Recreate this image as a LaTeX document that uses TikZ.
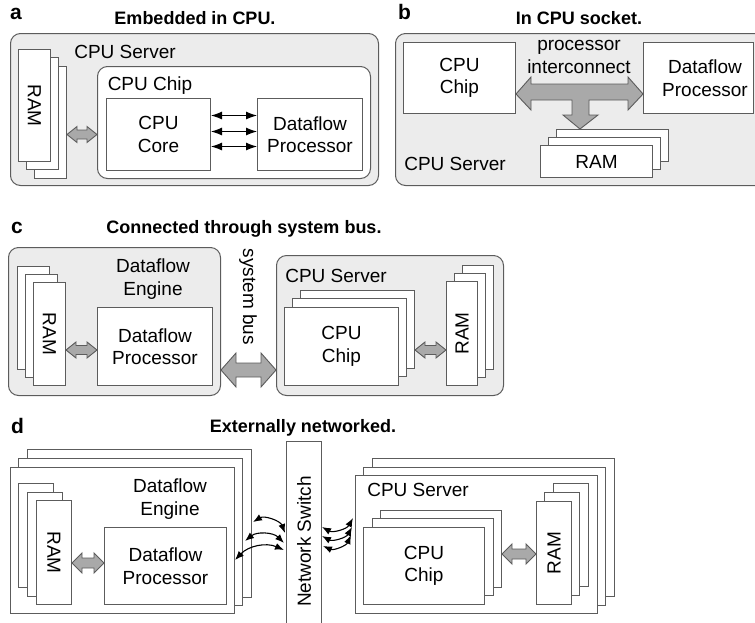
\documentclass[tikz,border=0pt]{standalone}
\usepackage{fontspec}
\setmainfont{Liberation Sans}
\usetikzlibrary{arrows.meta,calc}

\definecolor{linegray}{HTML}{5C5C5C}
\definecolor{panelgray}{HTML}{ECECEC}
\definecolor{arrowgray}{HTML}{A9A9A9}

\newcommand\mainfs{\fontsize{19}{22.5}\selectfont}
\newcommand\titlefs{\fontsize{18}{21}\selectfont}
\newcommand\tagfs{\fontsize{21}{24}\selectfont}

% horizontal gray double arrow: start, end, half shaft, half head, head length
\newcommand\grayarrow[5]{%
  \path[fat] let \p1=(#1), \p2=(#2) in
    (\x1,\y1) -- (\x1+#5pt,\y1+#4pt) -- (\x1+#5pt,\y1+#3pt) -- (\x2-#5pt,\y1+#3pt)
    -- (\x2-#5pt,\y1+#4pt) -- (\x2,\y1) -- (\x2-#5pt,\y1-#4pt) -- (\x2-#5pt,\y1-#3pt)
    -- (\x1+#5pt,\y1-#3pt) -- (\x1+#5pt,\y1-#4pt) -- cycle;}

\tikzset{
  box/.style={draw=linegray, fill=white, line width=1pt, inner sep=0pt,
    anchor=north west, align=center, font=\mainfs},
  sz/.style 2 args={minimum width=#1pt, minimum height=#2pt},
  panel/.style={box, fill=panelgray, rounded corners=10pt},
  roundbox/.style={box, rounded corners=10pt},
  txt/.style={align=center, font=\mainfs, inner sep=0pt},
  title/.style={font=\titlefs\bfseries, inner sep=0pt, anchor=base},
  tag/.style={font=\tagfs\bfseries, inner sep=0pt, anchor=base west},
  link/.style={draw=black, line width=1pt, {Latex[length=11pt,width=8pt]}-{Latex[length=11pt,width=8pt]}},
  netlink/.style={draw=black, line width=1.1pt, {Latex[length=9pt,width=7pt]}-{Latex[length=9pt,width=7pt]}},
  fat/.style={draw=linegray, fill=arrowgray, line width=0.9pt, line join=miter},
}

\begin{document}
\begin{tikzpicture}[x=1pt,y=-1pt]
\useasboundingbox (0,0) rectangle (755,622);
\clip (0,0) rectangle (755,622);

% ---------------- a: embedded in CPU ----------------
\node[tag] (tagA) at (10,19) {a};
\node[title] (titleA) at (195,24) {Embedded in CPU.};
\node[panel, sz={368}{152}] (serverA) at (10,33) {};
\node[txt] (serverAtxt) at (125,52) {CPU Server};
\node[box, sz={32}{112}] (ramA3) at (34,66) {};
\node[box, sz={32}{112}] (ramA2) at (26,57) {};
\node[box, sz={32}{112}] (ramA1) at (18,49) {};
\node[txt, rotate=-90] (ramAtxt) at (ramA1.center) {RAM};
\node[roundbox, sz={273}{112}] (chipA) at (97,66) {};
\node[txt] (chipAtxt) at (150,86) {CPU Chip};
\node[box, sz={104}{72}] (coreA) at (106,98) {CPU\\Core};
\node[box, sz={105}{72}] (dfpA) at (257,98) {Dataflow\\Processor};
\grayarrow{ramA3.east |- coreA.center}{chipA.west |- coreA.center}{4.5}{8}{10}
\draw[link] ([yshift=-12pt]coreA.east) -- ([yshift=-12pt]dfpA.west);
\draw[link] ([yshift=3pt]coreA.east) -- ([yshift=3pt]dfpA.west);
\draw[link] ([yshift=19pt]coreA.east) -- ([yshift=19pt]dfpA.west);

% ---------------- b: in CPU socket ----------------
\node[tag] (tagB) at (398,19) {b};
\node[title] (titleB) at (579,24) {In CPU socket.};
\node[panel, sz={380}{152}] (serverB) at (395,33) {};
\node[box, sz={112}{71}] (chipB) at (403,42) {CPU\\Chip};
\node[box, sz={110}{71}] (dfpB) at (643,42) {};
\node[txt] (dfpBtxt) at (705,78) {Dataflow\\Processor};
\node[txt] (busB) at (579,57) {processor\\interconnect};
\node[box, sz={112}{32}] (ramB3) at (556,129) {};
\node[box, sz={112}{32}] (ramB2) at (548,137) {};
\node[box, sz={112}{32}] (ramB1) at (540,145) {RAM};
\node[txt] (serverBtxt) at (455,164) {CPU Server};
% T-shaped interconnect joining chip, dataflow processor and memory
\coordinate (tL) at (chipB.east |- 0,94);
\coordinate (tR) at (dfpB.west |- 0,94);
\coordinate (tD) at (580,129);
\path[fat] (tL) -- ++(15,-17) -- ++(0,7) -- ($(tR)+(-15,-10)$) -- ++(0,-7) -- (tR)
  -- ++(-15,16) -- ++(0,-10) -- ($(tD)+(9,-29)$) -- ++(0,15) -- ++(9,0) -- (tD)
  -- ++(-17,-14) -- ++(9,0) -- ++(0,-15) -- ($(tL)+(15,6)$) -- ++(0,10) -- cycle;

% ---------------- c: connected through system bus ----------------
\node[tag] (tagC) at (11,233) {c};
\node[title] (titleC) at (244,233) {Connected through system bus.};
\node[panel, sz={212}{148}] (engineC) at (8,247) {};
\node[box, sz={32}{103}] (ramC3) at (17,266) {};
\node[box, sz={32}{103}] (ramC2) at (25,274) {};
\node[box, sz={32}{103}] (ramC1) at (33,282) {};
\node[txt, rotate=-90] (ramCtxt) at (ramC1.center) {RAM};
\node[txt] (engineCtxt) at (153,279) {Dataflow\\Engine};
\node[box, sz={115}{78}] (dfpC) at (97,307) {Dataflow\\Processor};
\grayarrow{ramC1.east |- 0,350}{dfpC.west |- 0,350}{4.5}{8}{10}
\node[txt, rotate=-90] (busC) at (248,297) {system bus};
\node[panel, sz={227}{140}] (serverC) at (276,255) {};
\node[txt] (serverCtxt) at (336,276) {CPU Server};
\node[box, sz={114}{78}] (chipC3) at (300,290) {};
\node[box, sz={114}{78}] (chipC2) at (292,298) {};
\node[box, sz={114}{78}] (chipC1) at (284,307) {CPU\\Chip};
\node[box, sz={31}{104}] (ramR3) at (462,265) {};
\node[box, sz={31}{104}] (ramR2) at (454,273) {};
\node[box, sz={31}{104}] (ramR1) at (446,281) {};
\node[txt, rotate=90] (ramRtxt) at (ramR1.center) {RAM};
\grayarrow{chipC3.east |- 0,350}{ramR1.west |- 0,350}{4.5}{8}{10}
\grayarrow{engineC.east |- 0,370}{serverC.west |- 0,370}{7}{17}{15}

% ---------------- d: externally networked ----------------
\node[tag] (tagD) at (11,433) {d};
\node[title] (titleD) at (303,432) {Externally networked.};
\node[box, sz={224}{148}] (engineD3) at (27,449) {};
\node[box, sz={224}{147}] (engineD2) at (18,458) {};
\node[box, sz={224}{146}] (engineD1) at (10,467) {};
\node[box, sz={35}{104}] (ramD3) at (18,483) {};
\node[box, sz={35}{104}] (ramD2) at (27,492) {};
\node[box, sz={35}{104}] (ramD1) at (36,500) {};
\node[txt, rotate=-90] (ramDtxt) at (ramD1.center) {RAM};
\node[txt] (engineDtxt) at (170,499) {Dataflow\\Engine};
\node[box, sz={122}{77}] (dfpD) at (104,527) {Dataflow\\Processor};
\grayarrow{ramD1.east |- 0,563}{dfpD.west |- 0,563}{5}{10}{10}

\node[box, sz={35}{200}] (switchD) at (286,441) {};
\node[txt, rotate=90] (switchDtxt) at (switchD.center) {Network Switch};

\node[box, sz={242}{138}] (serverD3) at (372,458) {};
\node[box, sz={242}{138}] (serverD2) at (363,467) {};
\node[box, sz={242}{138}] (serverD1) at (355,475) {};
\node[txt] (serverDtxt) at (418,490) {CPU Server};
\node[box, sz={121}{77}] (chipD3) at (380,510) {};
\node[box, sz={121}{77}] (chipD2) at (372,518) {};
\node[box, sz={121}{77}] (chipD1) at (363,527) {CPU\\Chip};
\node[box, sz={35}{103}] (ramE3) at (553,483) {};
\node[box, sz={35}{103}] (ramE2) at (544,492) {};
\node[box, sz={35}{103}] (ramE1) at (536,501) {};
\node[txt, rotate=90] (ramEtxt) at (ramE1.center) {RAM};
\grayarrow{chipD3.east |- 0,554}{ramE1.west |- 0,554}{5}{10}{10}

% network links, engine side
\coordinate (la1) at (253,522); \coordinate (lb1) at (285,533);
\coordinate (la2) at (245,541); \coordinate (lb2) at (284,543);
\coordinate (la3) at (235,560); \coordinate (lb3) at (284,550);
\draw[netlink] (la1) to[bend left=50] (lb1);
\draw[netlink] (la2) to[bend left=42] (lb2);
\draw[netlink] (la3) to[bend left=35] (lb3);
% network links, server side
\coordinate (ra1) at (322,527); \coordinate (rb1) at (353,518);
\coordinate (ra2) at (322,536); \coordinate (rb2) at (352,527);
\coordinate (ra3) at (323,546); \coordinate (rb3) at (351,535);
\draw[netlink] (ra1) to[bend right=45] (rb1);
\draw[netlink] (ra2) to[bend right=45] (rb2);
\draw[netlink] (ra3) to[bend right=45] (rb3);
\end{tikzpicture}
\end{document}
